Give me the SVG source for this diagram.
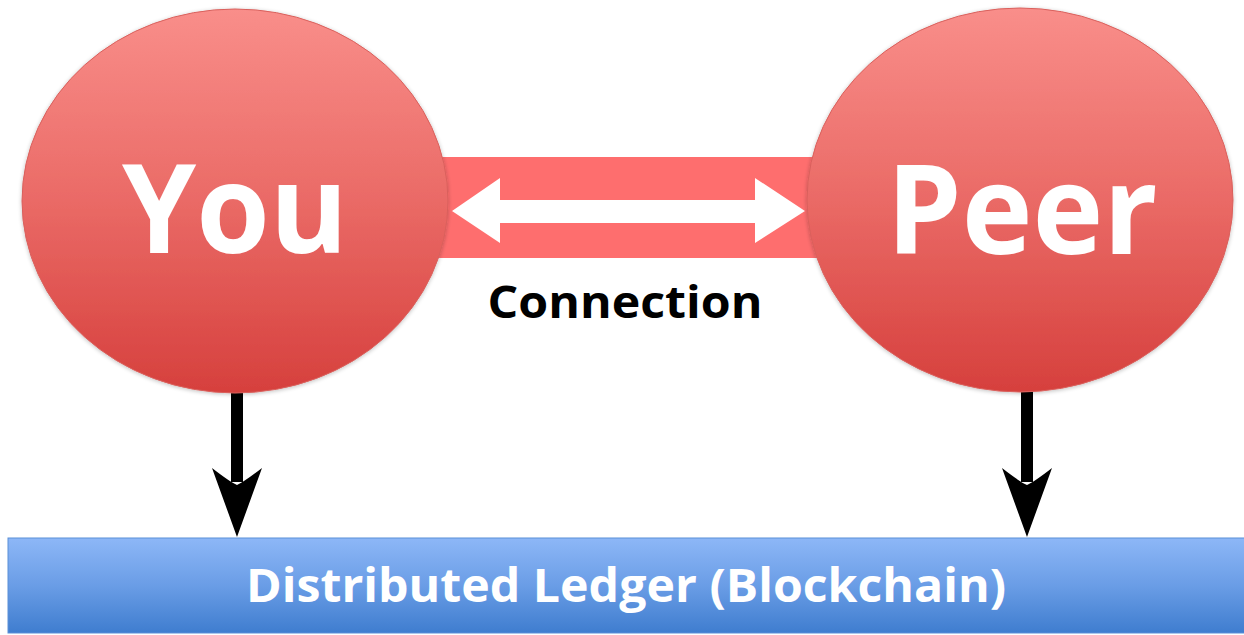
<svg xmlns="http://www.w3.org/2000/svg" width="1244" height="635" viewBox="0 0 1244 635">
  <style>
    .node-label { font-family: "Open Sans", "Liberation Sans", sans-serif; font-weight: bold; fill: #ffffff; }
    .caption { font-family: "Open Sans", "Liberation Sans", sans-serif; font-weight: bold; fill: #000000; }
    .peer-circle { fill: url(#redFill); stroke: #d9605c; stroke-width: 1; }
  </style>
  <defs>
    <linearGradient id="redFill" x1="0" y1="0" x2="0" y2="1">
      <stop offset="0" stop-color="#f98e8a"/>
      <stop offset="0.5" stop-color="#ea6a66"/>
      <stop offset="1" stop-color="#d6403d"/>
    </linearGradient>
    <linearGradient id="blueFill" x1="0" y1="0" x2="0" y2="1">
      <stop offset="0" stop-color="#8db7f7"/>
      <stop offset="0.5" stop-color="#6a9de6"/>
      <stop offset="1" stop-color="#3f7dcf"/>
    </linearGradient>
    <filter id="softShadow" x="-10%" y="-10%" width="120%" height="120%">
      <feGaussianBlur in="SourceAlpha" stdDeviation="2"/>
      <feOffset dx="0" dy="1"/>
      <feComponentTransfer><feFuncA type="linear" slope="0.25"/></feComponentTransfer>
      <feMerge><feMergeNode/><feMergeNode in="SourceGraphic"/></feMerge>
    </filter>
  </defs>

  <rect width="1244" height="635" fill="#ffffff"/>

  <!-- connectors -->
  <g id="connectors">
    <!-- link band between the two peers -->
    <rect x="430" y="157" width="390" height="101" fill="#fe6e6e"/>
    <!-- white double-headed arrow -->
    <polygon points="452,211 500,178 500,200 755,200 755,178 805,211 755,243 755,223 500,223 500,243" fill="#ffffff"/>
    <!-- down arrows into the ledger -->
    <g fill="#000000">
      <rect x="231" y="392" width="12" height="90"/>
      <path d="M212,468 L237,537 L262,468 Q244,482 237,485 Q230,482 212,468 Z"/>
      <rect x="1021" y="392" width="12" height="90"/>
      <path d="M1002,468 L1027,537 L1052,468 Q1034,482 1027,485 Q1020,482 1002,468 Z"/>
    </g>
  </g>

  <g id="node-you" filter="url(#softShadow)">
    <ellipse class="peer-circle" cx="235" cy="201" rx="213" ry="192"/>
    <text class="node-label" x="235" y="253" font-size="124" text-anchor="middle" textLength="226" lengthAdjust="spacingAndGlyphs">You</text>
  </g>

  <g id="node-peer" filter="url(#softShadow)">
    <ellipse class="peer-circle" cx="1020" cy="200" rx="213" ry="192"/>
    <text class="node-label" x="1022" y="254" font-size="124" text-anchor="middle" textLength="271" lengthAdjust="spacingAndGlyphs">Peer</text>
  </g>

  <g id="label-connection">
    <text class="caption" x="625" y="318" font-size="45" text-anchor="middle" textLength="275" lengthAdjust="spacingAndGlyphs">Connection</text>
  </g>

  <g id="node-ledger">
    <rect x="8" y="538" width="1240" height="95" fill="url(#blueFill)" stroke="#5b8fd8" stroke-width="1"/>
    <text class="node-label" x="626" y="602" font-size="47" text-anchor="middle" textLength="760" lengthAdjust="spacingAndGlyphs">Distributed Ledger (Blockchain)</text>
  </g>
</svg>
